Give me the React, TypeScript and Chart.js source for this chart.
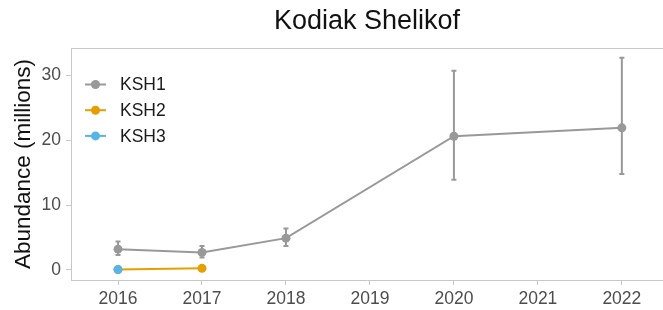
import { useEffect, useRef } from "react";
import { Chart, registerables } from "chart.js";
Chart.register(...registerables);

const titleText = "Kodiak Shelikof";
const yTitle = "Abundance (millions)";
const seriesNames = ["KSH1", "KSH2", "KSH3"];
const seriesColors = ["#999999", "#E69F00", "#56B4E9"];

const ksh1Years = [2016, 2017, 2018, 2020, 2022];
const ksh1 = [3.2, 2.7, 4.9, 20.6, 21.9];
const ksh1Low = [2.3, 1.9, 3.7, 13.9, 14.8];
const ksh1High = [4.4, 3.7, 6.4, 30.7, 32.7];
const ksh2Years = [2016, 2017];
const ksh2 = [0.05, 0.25];
const ksh3Years = [2016];
const ksh3 = [0.05];

const xTicks = [2016, 2017, 2018, 2019, 2020, 2021, 2022];
const yTicks = [0, 10, 20, 30];

const FONT = "'Liberation Sans', Arial, Helvetica, sans-serif";
const BORDER = "#c8c8c8";

export default function App() {
  const ref = useRef<HTMLCanvasElement | null>(null);
  useEffect(() => {
    const canvas = ref.current;
    if (!canvas) return;

    const errorBars = {
      id: "errorBars",
      afterDatasetsDraw(chart: any) {
        const { ctx, scales } = chart;
        const xs = scales.x;
        const ys = scales.y;
        ctx.save();
        ctx.strokeStyle = seriesColors[0];
        ctx.lineWidth = 2;
        ksh1Years.forEach((yr, i) => {
          const px = xs.getPixelForValue(yr);
          const lo = ys.getPixelForValue(ksh1Low[i]);
          const hi = ys.getPixelForValue(ksh1High[i]);
          ctx.beginPath();
          ctx.moveTo(px, lo);
          ctx.lineTo(px, hi);
          ctx.moveTo(px - 2.5, lo);
          ctx.lineTo(px + 2.5, lo);
          ctx.moveTo(px - 2.5, hi);
          ctx.lineTo(px + 2.5, hi);
          ctx.stroke();
        });
        ctx.restore();
      },
      afterDraw(chart: any) {
        const { ctx, chartArea } = chart;
        ctx.save();
        // top border
        ctx.strokeStyle = BORDER;
        ctx.lineWidth = 1;
        ctx.beginPath();
        ctx.moveTo(chartArea.left, chartArea.top + 0.5);
        ctx.lineTo(chartArea.right, chartArea.top + 0.5);
        ctx.stroke();
        // title
        ctx.fillStyle = "#111111";
        ctx.font = `27px ${FONT}`;
        ctx.textAlign = "center";
        ctx.textBaseline = "middle";
        ctx.fillText(titleText, (chartArea.left + chartArea.right) / 2, 22);
        // legend
        ctx.font = `17.5px ${FONT}`;
        ctx.textAlign = "left";
        seriesNames.forEach((name, i) => {
          const y = 84.5 + i * 25.7;
          ctx.strokeStyle = seriesColors[i];
          ctx.lineWidth = 2;
          ctx.beginPath();
          ctx.moveTo(85, y);
          ctx.lineTo(106, y);
          ctx.stroke();
          ctx.fillStyle = seriesColors[i];
          ctx.beginPath();
          ctx.arc(95.5, y, 4.5, 0, Math.PI * 2);
          ctx.fill();
          ctx.fillStyle = "#1a1a1a";
          ctx.fillText(name, 120, y + 1);
        });
        ctx.restore();
      },
    };

    const mk = (xsArr: number[], ysArr: number[], i: number) => ({
      label: seriesNames[i],
      data: xsArr.map((x, k) => ({ x, y: ysArr[k] })),
      borderColor: seriesColors[i],
      backgroundColor: seriesColors[i],
      pointBackgroundColor: seriesColors[i],
      pointBorderWidth: 0,
      pointRadius: 4.5,
      borderWidth: 2,
      showLine: true,
      tension: 0,
      order: 2 - i,
    });

    const chart = new Chart(canvas, {
      type: "scatter",
      data: {
        datasets: [mk(ksh1Years, ksh1, 0), mk(ksh2Years, ksh2, 1), mk(ksh3Years, ksh3, 2)],
      },
      options: {
        animation: false,
        responsive: false,
        maintainAspectRatio: false,
        layout: { autoPadding: false, padding: { top: 48, left: 0, right: 0, bottom: 0 } },
        plugins: { legend: { display: false }, tooltip: { enabled: false }, title: { display: false } },
        scales: {
          x: {
            type: "linear",
            min: 2015.44,
            max: 2022.49,
            afterBuildTicks: (s: any) => {
              s.ticks = xTicks.map((v) => ({ value: v }));
            },
            afterFit: (s: any) => {
              s.height = 30;
              s.paddingLeft = 0;
              s.paddingRight = 0;
            },
            ticks: {
              callback: (v: any) => String(v),
              color: "#4d4d4d",
              font: { family: FONT, size: 17.5 },
              padding: 4,
              maxRotation: 0,
              autoSkip: false,
            },
            grid: { drawOnChartArea: false, drawTicks: true, tickLength: 5, color: BORDER, lineWidth: 1 },
            border: { display: true, color: BORDER, width: 1 },
          },
          y: {
            type: "linear",
            min: -1.55,
            max: 34.2,
            afterBuildTicks: (s: any) => {
              s.ticks = yTicks.map((v) => ({ value: v }));
            },
            afterFit: (s: any) => {
              s.width = 71;
              s.paddingTop = 0;
              s.paddingBottom = 0;
            },
            ticks: {
              callback: (v: any) => String(v),
              color: "#4d4d4d",
              font: { family: FONT, size: 17.5 },
              padding: 5,
            },
            grid: { drawOnChartArea: false, drawTicks: true, tickLength: 5, color: BORDER, lineWidth: 1 },
            border: { display: true, color: BORDER, width: 1 },
            title: {
              display: true,
              text: yTitle,
              color: "#111111",
              font: { family: FONT, size: 22.5 },
              padding: { top: 10, bottom: 0 },
            },
          },
        },
      },
      plugins: [errorBars],
    } as any);
    return () => chart.destroy();
  }, []);

  return (
    <div style={{ position: "absolute", left: 0, top: 0, width: 663, height: 310, background: "#fff" }}>
      <canvas ref={ref} width={663} height={310} style={{ width: 663, height: 310, display: "block" }} />
    </div>
  );
}
